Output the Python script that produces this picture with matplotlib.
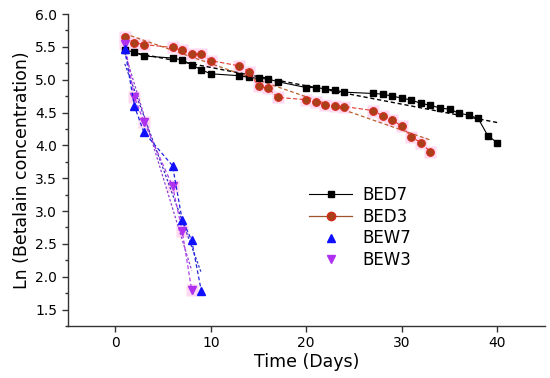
import matplotlib
matplotlib.use("Agg")
import matplotlib.pyplot as plt
import numpy as np
from matplotlib.lines import Line2D

plt.rcParams['font.family'] = ['DejaVu Sans']

# ---- data ----
bed7_days = [1, 2, 3, 6, 7, 8, 9, 10, 13, 14, 15, 16, 17, 20, 21, 22, 23, 24,
             27, 28, 29, 30, 31, 32, 33, 34, 35, 36, 37, 38, 39, 40]
bed7_vals = [5.45, 5.42, 5.36, 5.33, 5.30, 5.23, 5.15, 5.09, 5.06, 5.035, 5.02, 5.01, 4.97,
             4.88, 4.88, 4.86, 4.84, 4.81,
             4.79, 4.78, 4.75, 4.72, 4.69, 4.64, 4.61, 4.57, 4.55, 4.49, 4.46, 4.41, 4.15, 4.04]

bed3_days = [1, 2, 3, 6, 7, 8, 9, 10, 13, 14, 15, 16, 17, 20, 21, 22, 23, 24,
             27, 28, 29, 30, 31, 32, 33]
bed3_vals = [5.645, 5.565, 5.535, 5.49, 5.445, 5.39, 5.385, 5.29, 5.21, 5.12, 4.90, 4.87, 4.73,
             4.695, 4.66, 4.61, 4.60, 4.59,
             4.53, 4.45, 4.39, 4.29, 4.13, 4.04, 3.90]

bew7_days = [1, 2, 3, 6, 7, 8, 9]
bew7_vals = [5.46, 4.60, 4.20, 3.69, 2.87, 2.555, 1.79]

bew3_days = [1, 2, 3, 6, 7, 8]
bew3_vals = [5.54, 4.74, 4.36, 3.38, 2.70, 1.80]

x_ticks = [0, 10, 20, 30, 40]
y_ticks = [1.5, 2.0, 2.5, 3.0, 3.5, 4.0, 4.5, 5.0, 5.5, 6.0]

# ---- figure ----
fig = plt.figure(figsize=(5.5, 3.78), dpi=100)
ax = fig.add_axes([67.5/550, 1 - 326/378, (545 - 67.5)/550, (326 - 14)/378])

def fit_line(d, v):
    d = np.asarray(d, float); v = np.asarray(v, float)
    k, b = np.polyfit(d, v, 1)
    xs = np.array([d.min(), d.max()])
    return xs, k * xs + b

# BED7
ax.plot(bed7_days, bed7_vals, '-', color='black', lw=0.8, marker='s', ms=4.5,
        mfc='black', mec='black', zorder=4)
xs, ys = fit_line(bed7_days, bed7_vals)
ax.plot(xs, ys, color='black', lw=1.0, ls=(0, (3, 2)), zorder=3)

# BED3
ax.plot(bed3_days, bed3_vals, ls='none', marker='s', ms=9, mfc='#ffd8f2', mec='none', zorder=2)
ax.plot(bed3_days, bed3_vals, color='#e03a30', lw=0.8, ls=(0, (4, 2)), marker='o', ms=5.5,
        mfc='#a8401a', mec='#d42a1a', mew=0.8, zorder=4)
xs, ys = fit_line(bed3_days, bed3_vals)
ax.plot(xs, ys, color='#b8602a', lw=0.9, ls=(0, (3, 2)), zorder=3)

# BEW7
ax.plot(bew7_days, bew7_vals, color='#2020e0', lw=0.9, ls=(0, (3, 2)), marker='^', ms=6,
        mfc='#1010ff', mec='#1010ff', zorder=5)
xs, ys = fit_line(bew7_days, bew7_vals)
ax.plot(xs, ys, color='#3030c0', lw=0.9, ls=(0, (2, 1.5)), zorder=3)

# BEW3
ax.plot(bew3_days, bew3_vals, ls='none', marker='s', ms=9, mfc='#ffd8f2', mec='none', zorder=2)
ax.plot(bew3_days, bew3_vals, color='#b040e8', lw=0.9, ls=(0, (3, 2)), marker='v', ms=6,
        mfc='#b030f0', mec='#b030f0', zorder=4)
xs, ys = fit_line(bew3_days, bew3_vals)
ax.plot(xs, ys, color='#9040d0', lw=0.9, ls=(0, (2, 1.5)), zorder=3)

ax.set_xlim(-5, 45)
ax.set_ylim(1.25, 6.0)
ax.set_xticks(x_ticks)
ax.set_yticks(y_ticks)
ax.set_yticklabels([f"{t:.1f}" for t in y_ticks])
ax.set_yticks(np.arange(1.25, 6.0, 0.5), minor=True)
ax.spines['top'].set_visible(False)
ax.spines['right'].set_visible(False)
for s in ['left', 'bottom']:
    ax.spines[s].set_linewidth(1.0)
    ax.spines[s].set_color('#333333')
ax.tick_params(axis='both', which='major', direction='out', length=4.5, width=1,
               labelsize=10, color='#333333', pad=3)
ax.tick_params(axis='y', which='minor', direction='out', length=2.5, width=1, color='#333333')

ax.set_xlabel('Time (Days)', fontsize=12.5, labelpad=2)
ax.set_ylabel('Ln (Betalain concentration)', fontsize=12.5, labelpad=3)

handles = [
    Line2D([], [], color='black', lw=0.8, marker='s', ms=5, mfc='black', mec='black'),
    Line2D([], [], color='#a0522d', lw=0.9, marker='o', ms=6, mfc='#a8401a', mec='#d42a1a'),
    Line2D([], [], ls='none', marker='^', ms=6, mfc='#1010ff', mec='#1010ff'),
    Line2D([], [], ls='none', marker='v', ms=6, mfc='#b030f0', mec='#b030f0'),
]
ax.legend(handles, ['BED7', 'BED3', 'BEW7', 'BEW3'], loc='upper left',
          bbox_to_anchor=(309/550, 1 - 186/378), bbox_transform=fig.transFigure,
          frameon=False, fontsize=12, handlelength=2.6, handletextpad=0.6,
          labelspacing=0.22, borderpad=0, borderaxespad=0)

fig.savefig('out.png', dpi=100)
